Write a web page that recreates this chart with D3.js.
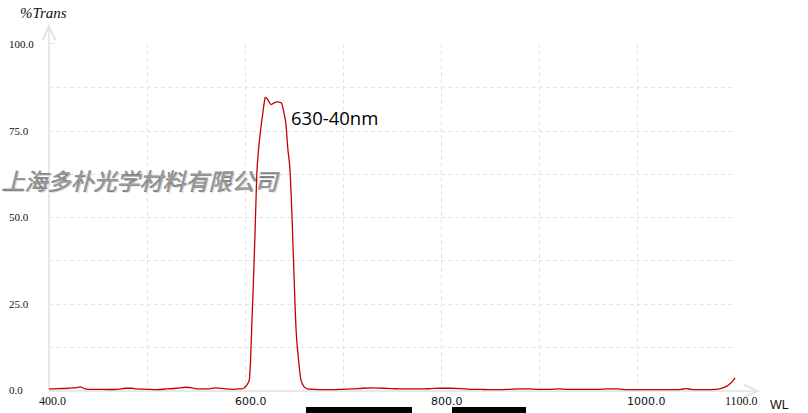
<!DOCTYPE html>
<html><head><meta charset="utf-8">
<script src="https://cdn.jsdelivr.net/npm/d3@7/dist/d3.min.js"></script>
<style>html,body{margin:0;padding:0;background:#fff;}svg{display:block;}</style>
</head><body>
<svg id="chart" width="808" height="413"></svg>
<script>
// ---- data ----
const wavelengths = [400,410,420,428,432,436,440,450,460,470,478,484,490,500,510,520,530,540,548,552,556,562,570,580,588,592,596,599,602,604.4,605.8,607.1,608.2,610.2,612,614,616.3,618.4,619.6,620.7,623.5,626.5,629.3,632.7,637,639.8,641.8,643.6,645.9,648,651,652,654.4,657.1,660.2,664,670,680,690,700,710,720,730,740,750,760,770,780,790,800,810,820,830,840,850,860,870,880,890,900,910,920,930,940,950,960,970,980,990,1000,1010,1020,1030,1040,1045,1050,1055,1060,1070,1080,1085,1090,1093,1096,1098,1100];
const transmission = [0.3,0.4,0.5,0.7,0.9,0.4,0.2,0.2,0.15,0.2,0.5,0.5,0.3,0.2,0.1,0.3,0.5,0.8,0.5,0.3,0.3,0.3,0.6,0.3,0.2,0.3,0.3,0.6,1.5,2.9,9.5,20,28,45,62,70,76,80.5,83,84.6,83.8,82.5,82.9,83.3,83,80,76.7,70,63.6,50,25,18,9.5,2.9,1,0.3,0.2,0.1,0.1,0.2,0.3,0.5,0.6,0.5,0.4,0.3,0.3,0.3,0.4,0.5,0.5,0.4,0.2,0.2,0.1,0.1,0.2,0.3,0.3,0.2,0.2,0.3,0.2,0.2,0.2,0.2,0.3,0.3,0.1,0.1,0.1,0.1,0.1,0.1,0.2,0.4,0.2,0.1,0.1,0.2,0.4,0.9,1.4,2.1,2.7,3.5];
const yTicks = [0,25,50,75,100];
const yTickLabels = ["0.0","25.0","50.0","75.0","100.0"];
const yGrid = [12.5,25,37.5,50,62.5,75,87.5];
const xGrid = [500,600,700,800,900,1000];
const xTicks = [400,600,800,1000,1100];
const xTickLabels = ["400.0","600.0","800.0","1000.0","1100.0"];
const xTickSerif = [true,false,false,false,true];
const yAxisTitle = "%Trans";
const xAxisTitle = "WL";
const annotation = "630-40nm";
const watermark = "上海多朴光学材料有限公司";

// ---- chart ----
const svg = d3.select("#chart");
const x = d3.scaleLinear().domain([400,1100]).range([49,735]);
const y = d3.scaleLinear().domain([0,100]).range([390,44]);
const gridColor = "#e4e4e4";

// grid
svg.append("g").selectAll("line").data(yGrid).join("line")
  .attr("x1", x(400)).attr("x2", x(1100))
  .attr("y1", d=>Math.round(y(d))+0.5).attr("y2", d=>Math.round(y(d))+0.5)
  .attr("stroke", gridColor).attr("stroke-dasharray","4,3");
svg.append("g").selectAll("line").data(xGrid).join("line")
  .attr("x1", d=>Math.round(x(d))+0.5).attr("x2", d=>Math.round(x(d))+0.5)
  .attr("y1", y(100)).attr("y2", y(0))
  .attr("stroke", gridColor).attr("stroke-dasharray","4,3");

// axes (light gray with arrows)
const defs = svg.append("defs");
defs.append("marker").attr("id","arr").attr("viewBox","0 0 10 10").attr("refX",9).attr("refY",5)
  .attr("markerWidth",8).attr("markerHeight",8).attr("orient","auto-start-reverse")
  .append("path").attr("d","M0,1 L9,5 L0,9").attr("fill","none").attr("stroke","#e4e4e4").attr("stroke-width",1.3);
svg.append("line").attr("x1",x(400)).attr("x2",x(400)).attr("y1",y(0)+1).attr("y2",26)
  .attr("stroke","#e8e8e8").attr("stroke-width",2).attr("marker-end","url(#arr)");
svg.append("line").attr("x1",x(400)).attr("x2",758).attr("y1",y(0)+1).attr("y2",y(0)+1)
  .attr("stroke","#e8e8e8").attr("stroke-width",2).attr("marker-end","url(#arr)");
svg.append("line").attr("x1",x(400)).attr("x2",x(400)+6).attr("y1",Math.round(y(100))-0.5).attr("y2",Math.round(y(100))-0.5)
  .attr("stroke","#e4e4e4");

// watermark
const wm = svg.append("g").attr("font-family","'Noto Sans CJK SC'").attr("font-size",23)
  .attr("font-style","italic");
wm.append("text").attr("x",3).attr("y",191).text(watermark)
  .attr("fill","#d8d8d8");
wm.append("text").attr("x",1.5).attr("y",189.5).text(watermark)
  .attr("fill","#a0a0a0").attr("stroke","#666").attr("stroke-width",0.4);

// curve
const line = d3.line().x((d,i)=>x(wavelengths[i])).y(d=>y(d)).curve(d3.curveMonotoneX);
svg.append("path").datum(transmission).attr("d",line)
  .attr("fill","none").attr("stroke","#c40000").attr("stroke-width",1.3);

// y tick labels
svg.append("g").selectAll("text").data(yTicks).join("text")
  .attr("x",9).attr("y",d=>y(d)+4)
  .attr("font-family","'Liberation Serif'").attr("font-size",11).attr("fill","#111")
  .text((d,i)=>yTickLabels[i]);

// x tick labels
svg.append("g").selectAll("text").data(xTicks).join("text")
  .attr("x",d=>x(d)-10).attr("y",405)
  .attr("font-family",(d,i)=>xTickSerif[i]?"'Liberation Serif'":"'DejaVu Sans'")
  .attr("font-size",(d,i)=>xTickSerif[i]?12:11).attr("fill","#111")
  .text((d,i)=>xTickLabels[i]);

// titles
svg.append("text").attr("x",20).attr("y",18).attr("font-family","'Liberation Serif'")
  .attr("font-style","italic").attr("font-size",15).attr("fill","#111").text(yAxisTitle);
svg.append("text").attr("x",770).attr("y",409).attr("font-family","'Liberation Sans'")
  .attr("font-size",12.5).attr("fill","#111").text(xAxisTitle);

// annotation
svg.append("text").attr("x",291).attr("y",125).attr("font-family","'Open Sans'")
  .attr("font-size",18.5).attr("fill","#000").text(annotation);

// redaction bars (decoration)
svg.append("rect").attr("x",306).attr("y",407).attr("width",106).attr("height",6).attr("fill","#000");
svg.append("rect").attr("x",452).attr("y",407).attr("width",74).attr("height",6).attr("fill","#000");
</script>
</body></html>
